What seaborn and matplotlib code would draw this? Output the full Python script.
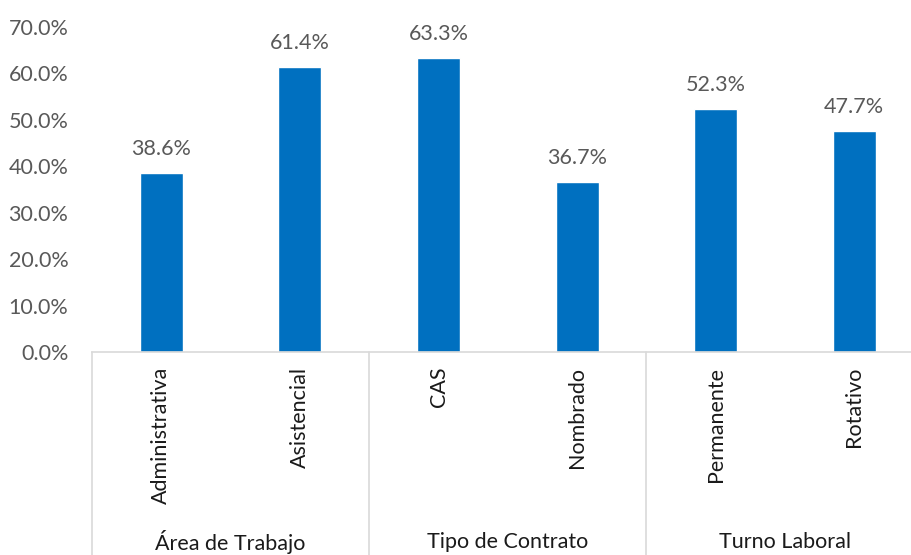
import matplotlib
matplotlib.use("Agg")
import matplotlib.pyplot as plt
import matplotlib.transforms as mtransforms
import seaborn as sns
import numpy as np
import pandas as pd

# ── Data ──────────────────────────────────────────────────────────────────────
groups = ["Área de Trabajo", "Tipo de Contrato", "Turno Laboral"]
group_sizes = [2, 2, 2]
categories = ["Administrativa", "Asistencial", "CAS", "Nombrado", "Permanente", "Rotativo"]
values = [38.6, 61.4, 63.3, 36.7, 52.3, 47.7]
y_ticks = [0, 10, 20, 30, 40, 50, 60, 70]

BAR = "#0070C0"
GRAY = "#595959"
LINE = "#D9D9D9"
FS = 15.5

sns.set_theme(style="white")
plt.rcParams["font.family"] = ["Lato", "DejaVu Sans"]

df = pd.DataFrame({"cat": categories, "val": values})

fig = plt.figure(figsize=(9.12, 5.55), dpi=100)
ax = fig.add_axes([92 / 912, 1 - 352 / 555, 831.6 / 912, 325 / 555])

sns.barplot(data=df, x="cat", y="val", order=categories, color=BAR,
            width=0.31, saturation=1, ax=ax)

ax.set_xlim(-0.5, len(categories) - 0.5)
ax.set_ylim(0, 70)
ax.set_yticks(y_ticks)
ax.set_yticklabels([f"{t:.1f}%" for t in y_ticks], color=GRAY, fontsize=FS)
ax.tick_params(axis="y", length=0, pad=17)
ax.set_xticks([])
ax.set_xlabel("")
ax.set_ylabel("")
for s in ["left", "right", "top"]:
    ax.spines[s].set_visible(False)
ax.spines["bottom"].set_color(LINE)
ax.spines["bottom"].set_linewidth(1.2)

# data labels
for i, v in enumerate(values):
    ax.annotate(f"{v:.1f}%", (i, v), xytext=(0, 10), textcoords="offset points",
                ha="center", va="bottom", fontsize=FS, color=GRAY)

# multi-level category axis
trans = mtransforms.blended_transform_factory(ax.transData, ax.transAxes)
for i, c in enumerate(categories):
    ax.text(i, -0.045, c, transform=trans, rotation=90, ha="center", va="top",
            fontsize=FS, color="#1a1a1a")

edges = np.concatenate([[0], np.cumsum(group_sizes)]) - 0.5
for e in edges:
    ax.plot([e, e], [0, -0.7], transform=trans, color=LINE, lw=1.2, clip_on=False)
for g, a, b in zip(groups, edges[:-1], edges[1:]):
    ax.text((a + b) / 2, -0.585, g, transform=trans, ha="center", va="center",
            fontsize=FS, color="#1a1a1a")

fig.savefig("out.png", dpi=100)
